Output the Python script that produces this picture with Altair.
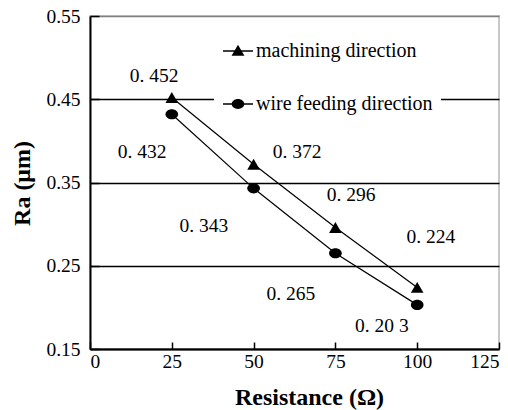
import altair as alt
import pandas as pd

# ---- data ----
resistance = [25, 50, 75, 100]
machining = [0.452, 0.372, 0.296, 0.224]
wire = [0.432, 0.343, 0.265, 0.203]
series_names = ["machining direction", "wire feeding direction"]

x_ticks = [0, 25, 50, 75, 100, 125]
y_ticks = [0.15, 0.25, 0.35, 0.45, 0.55]

label_text = ["0. 452", "0. 372", "0. 296", "0. 224", "0. 432", "0. 343", "0. 265", "0. 20 3"]
label_x = [19.6, 63.3, 79.8, 104.2, 15.9, 34.8, 61.4, 89.2]
label_y = [0.478, 0.387, 0.335, 0.2845, 0.387, 0.298, 0.216, 0.178]

FONT = "Times New Roman, Liberation Serif, serif"
W, H = 409, 333

df = pd.DataFrame({
    "resistance": resistance + resistance,
    "ra": machining + wire,
    "series": [series_names[0]] * len(resistance) + [series_names[1]] * len(resistance),
})
df_labels = pd.DataFrame({"lx": label_x, "ly": label_y, "txt": label_text})

xscale = alt.Scale(domain=[0, 125], nice=False, zero=False)
yscale = alt.Scale(domain=[0.15, 0.55], nice=False, zero=False)

main_x = alt.Axis(values=x_ticks, ticks=False, tickSize=0, labelPadding=3,
                  domainColor="black", domainWidth=2, grid=False,
                  title="Resistance (Ω)", titleX=219, titleY=48,
                  titleBaseline="middle", titleAlign="center",
                  titleFontWeight="bold", titleFontSize=24,
                  labelFontSize=19.5)
main_y = alt.Axis(values=y_ticks, format=".2f", ticks=False, tickSize=0, labelPadding=10,
                  domainColor="black", domainWidth=2, grid=True,
                  gridColor={"condition": {"test": "datum.value >= 0.549", "value": "#808080"}, "value": "black"},
                  gridWidth=1.5,
                  title="Ra (μm)", titleX=-68, titleY=167, titleAngle=270,
                  titleBaseline="middle", titleAlign="center",
                  titleFontWeight="bold", titleFontSize=24,
                  labelFontSize=19.5)
tick_x = alt.Axis(orient="top", offset=-H, values=x_ticks, labels=False, domain=False,
                  grid=False, ticks=True, tickSize=7, tickColor="black", tickWidth=1.5, title=None)
tick_y = alt.Axis(orient="right", offset=-W, values=y_ticks, labels=False, domain=False,
                  grid=False, ticks=True, tickSize=9, tickColor="black", tickWidth=1.5, title=None)

ellipse = "M-1,0A1,0.8 0 1,1 1,0A1,0.8 0 1,1 -1,0Z"
leg_tri = "M-1,-0.045H1V0.045H-1ZM0,-0.42L0.43,0.32L-0.43,0.32Z"
leg_ell = "M-1,-0.045H1V0.045H-1ZM-0.42,0A0.42,0.33 0 1,1 0.42,0A0.42,0.33 0 1,1 -0.42,0Z"

lines = alt.Chart(df).mark_line(color="black", strokeWidth=1.2).encode(
    x=alt.X("resistance:Q", scale=xscale, axis=main_x),
    y=alt.Y("ra:Q", scale=yscale, axis=main_y),
    detail="series:N",
)

points = alt.Chart(df).mark_point(filled=True, color="black", opacity=1, size=160).encode(
    x=alt.X("resistance:Q", scale=xscale, axis=tick_x),
    y=alt.Y("ra:Q", scale=yscale, axis=tick_y),
    shape=alt.Shape("series:N", scale=alt.Scale(domain=series_names, range=["triangle-up", ellipse]), legend=None),
)

labels = alt.Chart(df_labels).mark_text(font=FONT, fontSize=19.5, color="black",
                                        align="center", baseline="middle").encode(
    x=alt.X("lx:Q", scale=xscale, axis=None),
    y=alt.Y("ly:Q", scale=yscale, axis=None),
    text="txt:N",
)

legend_layer = alt.Chart(df).mark_point(filled=True, fill="black", stroke="black",
                                        strokeWidth=1.5, opacity=0).encode(
    x=alt.X("resistance:Q", scale=xscale, axis=None),
    y=alt.Y("ra:Q", scale=yscale, axis=None),
    shape=alt.Shape("series:N",
                    scale=alt.Scale(domain=series_names, range=[leg_tri, leg_ell]),
                    legend=alt.Legend(title=None, orient="none", legendX=124, legendY=11,
                                      fillColor="white", padding=8, symbolSize=900,
                                      symbolStrokeWidth=1.5, symbolStrokeColor="black",
                                      symbolFillColor="black", symbolOpacity=1,
                                      labelFont=FONT, labelFontSize=20, labelColor="black",
                                      labelOffset=2, rowPadding=27, labelLimit=300)),
)

chart = alt.layer(lines, points, labels, legend_layer).resolve_scale(
    shape="independent"
).resolve_axis(
    x="independent", y="independent"
).properties(
    width=W, height=H,
    autosize=alt.AutoSizeParams(type="none"),
    padding={"left": 90, "top": 16, "right": 9, "bottom": 61},
).configure_axis(
    labelFont=FONT, titleFont=FONT, labelColor="black", titleColor="black",
).configure_view(
    stroke="#c8c8c8", strokeWidth=2,
)

chart.save("out.html", embed_options={"renderer": "svg", "actions": False})
